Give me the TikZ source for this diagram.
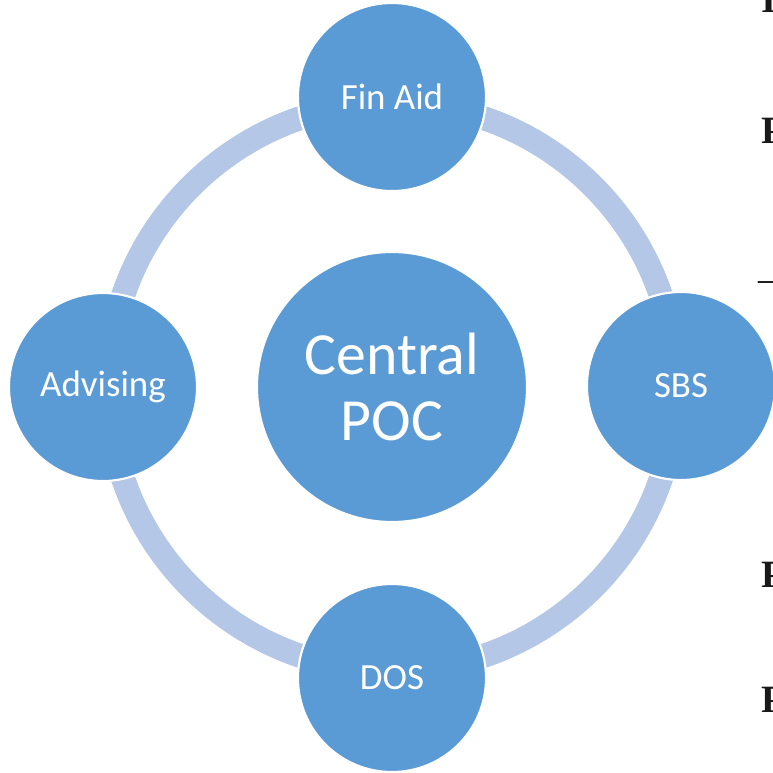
\documentclass[tikz,border=0pt]{standalone}
\usepackage{fontspec}
\setmainfont{Carlito}
\newfontfamily\sidefont{Liberation Serif}
\usepackage{tikz}
\usetikzlibrary{positioning}
\definecolor{PocBlue}{RGB}{91,155,213}
\definecolor{RingBlue}{RGB}{180,199,231}
\definecolor{SideInk}{RGB}{25,25,25}

\tikzset{
  office/.style={circle,fill=PocBlue,draw=white,line width=1.2pt,
    minimum size=3.76cm,inner sep=0pt,text=white,
    font=\fontsize{21}{25}\selectfont},
  hub/.style={office,minimum size=5.4cm,align=center,
    font=\fontsize{34}{37.5}\selectfont},
  sideletter/.style={anchor=base west,inner sep=0pt,text=SideInk,
    font=\sidefont\bfseries\fontsize{22}{26}\selectfont}
}

\begin{document}
\begin{tikzpicture}
  \useasboundingbox (-7.84,-7.72) rectangle (7.62,7.74);
  \clip (-7.84,-7.72) rectangle (7.62,7.74);
  % ring behind the offices
  \draw[RingBlue,line width=0.48cm] (0,0) circle (5.68);
  % text running off the right edge
  \node[sideletter] (s1) at (7.38,7.5) {I};
  \node[sideletter] (s2) at (7.38,4.88) {P};
  \node[sideletter,font=\sidefont\fontsize{22}{26}\selectfont] (s3) at (7.32,1.92) {\textendash};
  \node[sideletter] (s4) at (7.38,-4.0) {P};
  \node[sideletter] (s5) at (7.38,-6.5) {P};
  % offices
  \node[hub] (poc) at (0,0) {Central\\POC};
  \node[office] (finaid) at (0,5.8) {Fin Aid};
  \node[office] (sbs) at (5.78,0.02) {SBS};
  \node[office] (dos) at (0,-5.82) {DOS};
  \node[office] (advising) at (-5.78,0) {Advising};
\end{tikzpicture}
\end{document}
